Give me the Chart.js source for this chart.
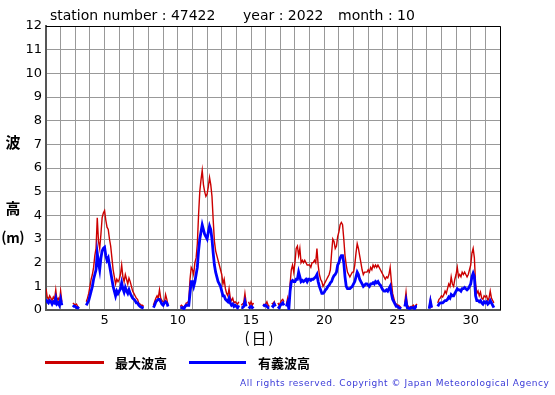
<!DOCTYPE html>
<html>
<head>
<meta charset="utf-8">
<script src="https://cdn.jsdelivr.net/npm/chart.js"></script>
<style>
html, body { margin: 0; padding: 0; background: #fff; }
</style>
</head>
<body>
<canvas id="myChart" width="555" height="395"></canvas>
<script>
// wave height, station 47422, October 2022 - one value every 2 hours (12 per day)
let startDay = 1;
let stepHours = 2;
let xTickLabels = [5, 10, 15, 20, 25, 30];
let yMin = 0;
let yMax = 12;

// 最大波高 (max wave height, m)
let maxWave = [
	0.9,0.55,0.45,0.6,0.5,0.4,0.55,0.45,0.85,0.4,0.5,0.35,          // 1
	0.8,0.35,null,null,null,null,null,null,null,null,0.3,0.25,       // 2
	0.2,0.25,0.15,0.1,null,null,null,null,null,0.35,0.5,0.7,         // 3
	1.0,1.3,1.5,1.8,2.3,2.6,3.9,2.9,2.6,3.2,3.9,4.1,                 // 4
	4.2,3.8,3.5,3.4,3.0,2.7,2.2,1.7,1.4,1.1,1.3,1.2,                 // 5
	1.3,1.5,1.9,1.4,1.2,1.5,1.3,1.1,1.35,1.2,1.0,0.8,                // 6
	0.7,0.6,0.5,0.45,0.3,0.25,0.2,0.2,0.15,null,null,null,           // 7
	null,null,null,null,0.2,0.35,0.5,0.6,0.5,0.85,0.5,0.4,           // 8
	0.35,0.3,0.65,0.45,0.2,null,null,null,null,null,null,null,       // 9
	null,null,0.15,0.2,0.15,0.1,0.2,0.3,0.3,0.4,1.3,1.8,             // 10
	1.7,1.5,2.0,2.2,2.8,4.0,5.0,5.5,5.9,5.3,5.0,4.8,                 // 11
	4.9,5.2,5.6,5.3,4.8,3.8,2.9,2.5,2.3,2.1,1.9,1.7,                 // 12
	1.5,1.1,1.3,0.9,0.7,0.6,0.9,0.5,0.4,0.5,0.3,0.35,                // 13
	0.3,0.25,0.35,null,0.2,0.25,0.3,0.7,0.3,null,0.35,0.2,           // 14
	0.35,0.2,0.3,null,null,null,null,null,null,null,0.25,0.2,        // 15
	0.25,0.35,0.2,0.15,null,0.3,0.25,0.35,0.2,null,0.3,0.2,          // 16
	0.3,0.4,0.45,0.35,null,0.25,0.5,0.15,1.1,1.7,1.9,1.6,            // 17
	2.0,2.6,2.7,2.3,2.6,2.0,2.1,2.0,2.1,2.0,1.9,1.9,                 // 18
	1.9,1.8,2.0,2.0,2.1,2.0,2.6,1.9,1.5,1.3,1.2,1.0,                 // 19
	1.1,1.2,1.3,1.4,1.5,1.7,2.4,3.0,2.9,2.6,2.7,3.1,                 // 20
	3.3,3.6,3.7,3.6,3.0,2.3,1.9,1.6,1.5,1.4,1.5,1.6,                 // 21
	1.6,1.9,2.4,2.8,2.6,2.3,2.0,1.7,1.5,1.6,1.6,1.6,                 // 22
	1.7,1.6,1.8,1.7,1.9,1.8,1.9,1.8,1.9,1.8,1.7,1.6,                 // 23
	1.5,1.4,1.3,1.4,1.35,1.5,1.8,1.2,0.7,0.5,0.3,0.25,               // 24
	0.2,0.2,0.15,0.1,null,null,0.3,0.75,0.2,0.15,0.1,0.15,           // 25
	0.15,0.2,0.1,0.2,0.25,null,null,null,null,null,null,null,        // 26
	null,null,0.1,0.45,0.1,null,null,null,null,0.3,0.45,0.5,         // 27
	0.6,0.55,0.65,0.8,0.7,0.9,1.1,1.0,1.4,1.1,1.0,1.3,               // 28
	1.5,1.8,1.4,1.5,1.4,1.6,1.5,1.6,1.5,1.4,1.5,1.7,                 // 29
	1.9,2.4,2.6,2.2,1.1,0.7,0.8,0.6,0.75,0.5,0.45,0.6,               // 30
	0.55,0.6,0.4,0.5,0.8,0.5,0.4,0.3,null,null,null,0.3              // 31
];

// 有義波高 (significant wave height, m)
let sigWave = [
	0.45,0.35,0.3,0.4,0.35,0.25,0.35,0.3,0.5,0.25,0.3,0.2,           // 1
	0.45,0.2,null,null,null,null,null,null,null,null,0.2,0.15,       // 2
	0.15,0.1,0.1,0.05,null,null,null,null,null,0.2,0.3,0.4,          // 3
	0.6,0.8,1.0,1.3,1.5,1.7,2.4,2.0,1.7,2.2,2.5,2.6,                 // 4
	2.65,2.3,2.1,2.2,1.9,1.6,1.3,1.0,0.8,0.6,0.8,0.7,                // 5
	0.8,0.9,1.15,0.9,0.75,0.95,0.8,0.7,0.85,0.7,0.6,0.5,             // 6
	0.45,0.4,0.3,0.3,0.2,0.15,0.12,0.1,0.08,null,null,null,          // 7
	null,null,null,null,0.1,0.2,0.35,0.4,0.45,0.45,0.35,0.25,        // 8
	0.2,0.3,0.35,0.3,0.15,null,null,null,null,null,null,null,        // 9
	null,null,0.1,0.1,0.1,0.05,0.15,0.2,0.2,0.2,0.7,1.2,             // 10
	1.2,1.0,1.2,1.5,1.8,2.5,3.0,3.3,3.6,3.4,3.2,3.1,                 // 11
	3.0,3.3,3.55,3.4,3.0,2.4,1.9,1.6,1.4,1.2,1.1,1.0,                // 12
	0.8,0.6,0.6,0.45,0.4,0.35,0.5,0.3,0.2,0.25,0.15,0.2,             // 13
	0.15,0.1,0.2,null,0.1,0.1,0.15,0.35,0.15,null,0.15,0.1,          // 14
	0.15,0.1,0.15,null,null,null,null,null,null,null,0.15,0.2,       // 15
	0.2,0.15,0.1,0.1,null,0.2,0.15,0.25,0.15,null,0.15,0.1,          // 16
	0.2,0.25,0.3,0.2,null,0.15,0.3,0.05,0.8,1.2,1.25,1.2,            // 17
	1.2,1.3,1.3,1.6,1.4,1.2,1.25,1.2,1.25,1.3,1.2,1.3,               // 18
	1.3,1.25,1.3,1.3,1.35,1.4,1.5,1.2,1.0,0.85,0.7,0.7,              // 19
	0.75,0.85,0.9,1.0,1.05,1.15,1.2,1.35,1.45,1.5,1.6,1.9,           // 20
	2.0,2.2,2.3,2.3,2.0,1.4,1.0,0.9,0.9,0.9,0.95,1.0,                // 21
	1.1,1.2,1.4,1.6,1.5,1.3,1.2,1.1,1.0,1.05,1.1,1.1,                // 22
	1.05,1.0,1.1,1.1,1.15,1.1,1.2,1.15,1.2,1.1,1.05,0.95,            // 23
	0.85,0.8,0.8,0.85,0.8,0.9,1.0,0.7,0.45,0.35,0.25,0.15,           // 24
	0.15,0.1,0.08,0.05,null,null,0.15,0.4,0.1,0.08,0.05,0.1,         // 25
	0.1,0.1,0.05,0.15,0.15,null,null,null,null,null,null,null,       // 26
	null,null,0.05,0.35,0.1,null,null,null,null,0.15,0.25,0.3,       // 27
	0.3,0.3,0.35,0.4,0.4,0.45,0.55,0.5,0.65,0.6,0.6,0.7,             // 28
	0.8,0.9,0.85,0.85,0.8,0.9,0.9,0.95,0.9,0.85,0.9,1.0,             // 29
	1.1,1.4,1.55,1.4,0.6,0.4,0.4,0.35,0.4,0.3,0.25,0.35,             // 30
	0.3,0.35,0.25,0.3,0.4,0.3,0.2,0.1,null,null,null,0.15            // 31
];

let toPoints = (arr) => arr.map((v, i) => ({ x: startDay + i * stepHours / 24, y: v }));

let redColor = '#cc0000';
let blueColor = '#0000ff';

// frame, titles, legend and copyright drawn on the canvas
let extras = {
	id: 'extras',
	afterDraw(chart) {
		let ctx = chart.ctx;
		let a = chart.chartArea;
		ctx.save();

		// thin black top / right frame
		ctx.strokeStyle = '#000';
		ctx.lineWidth = 1;
		ctx.beginPath();
		ctx.moveTo(a.left, Math.round(a.top) + 0.5);
		ctx.lineTo(Math.round(a.right) + 0.5, Math.round(a.top) + 0.5);
		ctx.lineTo(Math.round(a.right) + 0.5, a.bottom);
		ctx.stroke();

		// header
		ctx.fillStyle = '#000';
		ctx.font = '14px "DejaVu Sans"';
		ctx.textBaseline = 'middle';
		ctx.textAlign = 'left';
		ctx.fillText('station number : 47422', 50, 16);
		ctx.fillText('year : 2022', 243, 16);
		ctx.fillText('month : 10', 338, 16);

		// y axis title
		ctx.font = 'bold 15px "Noto Sans CJK JP"';
		ctx.textAlign = 'center';
		ctx.fillText('波', 13, 142);
		ctx.fillText('高', 13, 208);
		ctx.font = 'bold 14px "Noto Sans CJK JP"';
		ctx.fillText('(', 4, 237);
		ctx.fillText('m', 13, 238);
		ctx.fillText(')', 22, 237);

		// x axis title
		ctx.font = '15px "Noto Sans CJK JP"';
		ctx.fillText('(', 247, 337);
		ctx.fillText('日', 259, 338);
		ctx.fillText(')', 271, 337);

		// legend
		ctx.lineWidth = 3;
		ctx.strokeStyle = redColor;
		ctx.beginPath(); ctx.moveTo(45, 362.5); ctx.lineTo(104, 362.5); ctx.stroke();
		ctx.strokeStyle = blueColor;
		ctx.beginPath(); ctx.moveTo(189, 362.5); ctx.lineTo(246, 362.5); ctx.stroke();
		ctx.font = 'bold 13px "Noto Sans CJK JP"';
		ctx.textAlign = 'left';
		ctx.fillStyle = '#000';
		ctx.fillText('最大波高', 115, 363);
		ctx.fillText('有義波高', 258, 363);

		// copyright
		let copy = 'All rights reserved. Copyright © Japan Meteorological Agency';
		ctx.font = '9px "DejaVu Sans"';
		let w = ctx.measureText(copy).width;
		ctx.letterSpacing = ((309 - w) / (copy.length - 1)).toFixed(2) + 'px';
		ctx.fillStyle = '#3a3ad8';
		ctx.fillText(copy, 240, 384);
		ctx.restore();
	}
};

Chart.defaults.font.family = '"DejaVu Sans"';
Chart.defaults.color = '#000';

let myChart = document.getElementById('myChart').getContext('2d');

let chart = new Chart(myChart, {
	type: 'line',
	data: {
		datasets: [
			{
				label: '最大波高',
				data: toPoints(maxWave),
				borderColor: redColor,
				borderWidth: 1.4,
				pointRadius: 0,
				tension: 0,
				spanGaps: false,
				order: 2
			},
			{
				label: '有義波高',
				data: toPoints(sigWave),
				borderColor: blueColor,
				borderWidth: 2.8,
				pointRadius: 0,
				tension: 0,
				spanGaps: false,
				order: 1
			}
		]
	},
	options: {
		responsive: false,
		animation: false,
		layout: { padding: { top: 26, right: 55, left: 0, bottom: 0 } },
		plugins: {
			legend: { display: false },
			tooltip: { enabled: false },
			title: { display: false }
		},
		scales: {
			x: {
				type: 'linear',
				min: startDay,
				max: 32,
				afterFit: (scale) => { scale.height = 85; },
				ticks: {
					stepSize: 1,
					autoSkip: false,
					maxRotation: 0,
					padding: 3,
					font: { size: 13 },
					callback: (v) => xTickLabels.includes(v) ? String(v) : ''
				},
				grid: { color: '#999', lineWidth: 1, drawTicks: false },
				border: { color: '#555', width: 2 }
			},
			y: {
				min: yMin,
				max: yMax,
				afterFit: (scale) => { scale.width = 46; },
				ticks: { stepSize: 1, padding: 4, font: { size: 13 } },
				grid: { color: '#999', lineWidth: 1, drawTicks: false },
				border: { color: '#555', width: 2 }
			}
		}
	},
	plugins: [extras]
});
</script>
</body>
</html>
